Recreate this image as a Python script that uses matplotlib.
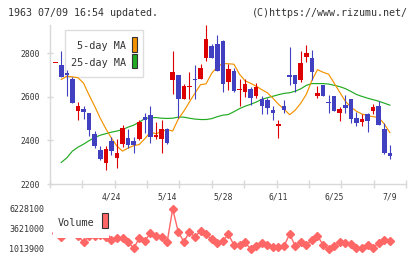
import matplotlib
matplotlib.use("Agg")
import matplotlib.pyplot as plt
import numpy as np
from matplotlib.patches import Rectangle

W, H = 420, 259
MONO = "DejaVu Sans Mono"
UP = "#dd0000"
DOWN = "#4040c0"
MA5_C = "#f39200"
MA25_C = "#22aa22"
VOL_C = "#ff6666"
AXIS = "#d8d8d8"
TXT = "#333333"

# daily candles, oldest first (last = 7/9)
opens = [2757, 2745, 2710, 2681, 2537, 2546, 2527, 2431, 2356, 2298,
         2398, 2320, 2383, 2412, 2397, 2405, 2508, 2519, 2414, 2406,
         2452, 2676, 2699, 2592, 2647, 2684, 2681, 2778, 2832, 2844,
         2856, 2669, 2719, 2633, 2623, 2638, 2603, 2592, 2585, 2539,
         2467, 2557, 2699, 2699, 2676, 2783, 2780, 2606, 2653, 2576,
         2603, 2527, 2562, 2588, 2505, 2485, 2521, 2536, 2557, 2452, 2343]
highs = [2757, 2809, 2722, 2693, 2576, 2557, 2527, 2445, 2373, 2375,
         2417, 2405, 2470, 2451, 2417, 2493, 2524, 2557, 2485, 2493,
         2455, 2809, 2699, 2658, 2714, 2745, 2753, 2928, 2841, 2882,
         2860, 2753, 2731, 2684, 2684, 2646, 2664, 2603, 2597, 2557,
         2493, 2585, 2829, 2699, 2809, 2837, 2814, 2649, 2653, 2608,
         2603, 2554, 2608, 2592, 2531, 2521, 2527, 2566, 2582, 2478, 2379]
lows = [2757, 2691, 2603, 2570, 2496, 2500, 2420, 2365, 2310, 2264,
        2333, 2275, 2368, 2364, 2341, 2402, 2432, 2389, 2405, 2341,
        2383, 2615, 2505, 2592, 2592, 2592, 2681, 2765, 2778, 2719,
        2623, 2631, 2623, 2557, 2600, 2562, 2594, 2521, 2521, 2496,
        2409, 2524, 2653, 2623, 2669, 2760, 2676, 2597, 2603, 2527,
        2534, 2490, 2524, 2481, 2466, 2466, 2440, 2521, 2470, 2337, 2313]
closes = [2757, 2691, 2702, 2570, 2557, 2532, 2447, 2374, 2317, 2359,
          2353, 2341, 2458, 2379, 2379, 2485, 2493, 2417, 2424, 2452,
          2389, 2714, 2589, 2649, 2649, 2676, 2733, 2864, 2778, 2719,
          2661, 2727, 2627, 2638, 2658, 2597, 2646, 2557, 2547, 2527,
          2475, 2539, 2691, 2661, 2757, 2803, 2714, 2618, 2604, 2572,
          2536, 2544, 2550, 2498, 2481, 2498, 2490, 2554, 2470, 2341, 2328]
ma5 = [np.nan, 2680, 2695, 2692, 2688, 2663, 2608, 2557, 2502, 2454,
       2411, 2374, 2351, 2365, 2376, 2381, 2408, 2438, 2431, 2440,
       2450, 2443, 2498, 2534, 2576, 2617, 2656, 2660, 2708, 2738,
       2753, 2752, 2750, 2704, 2674, 2662, 2649, 2633, 2619, 2594,
       2566, 2544, 2518, 2539, 2571, 2612, 2676, 2725, 2713, 2704,
       2663, 2621, 2580, 2553, 2534, 2521, 2514, 2509, 2505, 2475, 2436]
ma25 = [np.nan, 2299, 2320, 2351, 2369, 2383, 2399, 2413, 2424, 2431,
        2438, 2443, 2450, 2461, 2470, 2484, 2500, 2505, 2505, 2502,
        2501, 2502, 2507, 2507, 2502, 2498, 2496, 2496, 2500, 2509,
        2516, 2519, 2532, 2546, 2557, 2566, 2576, 2589, 2596, 2603,
        2610, 2616, 2619, 2626, 2637, 2653, 2661, 2661, 2661, 2659,
        2653, 2647, 2638, 2625, 2611, 2602, 2594, 2587, 2580, 2571, 2562]
volume = [3100000, 2643000, 3230000, 3230000, 2708500, 1887300, 2708500,
          2708500, 2773700, 2643000, 2187100, 2408700, 2408700, 1965500,
          1105000, 2408700, 2095800, 3060500, 2747600, 2539000, 1887300,
          6228100, 3269000, 1965500, 3190800, 2617300, 3360300, 2930100,
          2278300, 1756900, 2056700, 2930100, 1535300, 1535300, 1887300,
          1013900, 1405000, 1756900, 1535300, 1313700, 1313700, 1405000,
          2969200, 1405000, 1887300, 1535300, 2187100, 2747600, 1535300,
          1030000, 1405000, 1965500, 1756900, 1626600, 1105000, 1105000,
          1535300, 1183400, 1835100, 2187100, 2056700]
date_pos = [10, 20, 30, 40, 50, 60]
date_labels = ["4/24", "5/14", "5/28", "6/11", "6/25", "7/9"]
price_ticks = [2200, 2400, 2600, 2800]


def fx(x):
    return x / W


def fy(y):
    return 1 - y / H


def frect(x0, y0, x1, y1, **kw):
    # rectangle given in image pixels (top-left origin), placed in figure coords
    return Rectangle((fx(x0), fy(y1)), (x1 - x0) / W, (y1 - y0) / H,
                     transform=fig.transFigure, clip_on=False, **kw)


fig = plt.figure(figsize=(W / 100, H / 100), dpi=100)
fig.patch.set_facecolor("white")

x = np.arange(len(opens))
o, h, l, c = map(np.array, (opens, highs, lows, closes))
xlim = (-1.02, 62.89)

# price panel
ax = fig.add_axes([fx(50), fy(184), 356 / W, 159 / H])
ax.set_xlim(*xlim)
ax.set_ylim(2200, 2930)
for s in ("top", "right"):
    ax.spines[s].set_visible(False)
for s in ("left", "bottom"):
    ax.spines[s].set_color(AXIS)
    ax.spines[s].set_linewidth(1.0)

ax.set_xticks(np.linspace(xlim[0], xlim[1], 12))
ax.set_xticklabels([])
ax.tick_params(axis="x", direction="inout", length=6, width=1, color=AXIS)
ax.set_yticks(price_ticks)
ax.set_yticklabels([str(p) for p in price_ticks], fontsize=5.8,
                   family=MONO, color=TXT)
ax.tick_params(axis="y", direction="inout", length=5, width=1, color=AXIS, pad=5)
for pos, lab in zip(date_pos, date_labels):
    ax.text(pos, -13 / 159, lab, transform=ax.get_xaxis_transform(),
            ha="center", va="center", fontsize=5.8, family=MONO, color=TXT)

# legend box sits under the candles
ax.add_patch(frect(65, 30, 143, 77, facecolor="white", edgecolor="#dddddd",
                   linewidth=1, zorder=1))
ax.text(fx(126), fy(46), "5-day MA", transform=fig.transFigure, ha="right",
        va="center", fontsize=7.3, family=MONO, color=TXT, zorder=1.5)
ax.text(fx(126), fy(62.5), "25-day MA", transform=fig.transFigure, ha="right",
        va="center", fontsize=7.3, family=MONO, color=TXT, zorder=1.5)
ax.add_patch(frect(131.7, 37.3, 137.3, 51.7, facecolor=MA5_C,
                   edgecolor="#333333", linewidth=0.8, zorder=1.5))
ax.add_patch(frect(131.7, 54, 137.3, 68.3, facecolor=MA25_C,
                   edgecolor="#333333", linewidth=0.8, zorder=1.5))

ax.plot(x, ma25, color=MA25_C, lw=0.85, zorder=2)
ax.plot(x, ma5, color=MA5_C, lw=0.85, zorder=2)

up = c >= o
cols = np.where(up, UP, DOWN)
body_lo = np.minimum(o, c)
body_h = np.maximum(np.abs(c - o), 5)
ax.vlines(x, l, h, colors=cols, linewidth=0.8, zorder=3)
ax.bar(x, body_h, bottom=body_lo, width=0.82, color=cols, linewidth=0, zorder=3)

# volume panel
vmin, vmax = min(volume), max(volume)
axv = fig.add_axes([fx(50), fy(249), 356 / W, 40 / H])
axv.set_xlim(*xlim)
axv.set_ylim(vmin, vmax)
for s in axv.spines.values():
    s.set_visible(False)
axv.set_xticks([])
vt = [vmin, (vmin + vmax) // 2, vmax]
axv.set_yticks(vt)
axv.set_yticklabels([str(v) for v in vt], fontsize=6, family=MONO, color=TXT)
axv.tick_params(axis="y", length=0, pad=4)
axv.patch.set_alpha(0)
axv.plot(x, volume, color=VOL_C, lw=1, marker="D", ms=4.2, clip_on=False)

# the volume legend hides the first points
fig.add_artist(frect(53, 203, 109.5, 237.7, facecolor="white", edgecolor="none",
                     zorder=1))
fig.text(fx(58), fy(222.5), "Volume", ha="left", va="center", fontsize=7.3,
         family=MONO, color=TXT, zorder=2)
fig.add_artist(frect(101.7, 213.3, 108.3, 228.3, facecolor=VOL_C,
                     edgecolor="#333333", linewidth=0.8, zorder=2))

fig.text(fx(8), fy(13), "1963 07/09 16:54 updated.", ha="left", va="center",
         fontsize=7.2, family=MONO, color=TXT)
fig.text(fx(408), fy(13), "(C)https://www.rizumu.net/", ha="right",
         va="center", fontsize=7.2, family=MONO, color=TXT)

fig.savefig("out.png", dpi=100, facecolor="white")
